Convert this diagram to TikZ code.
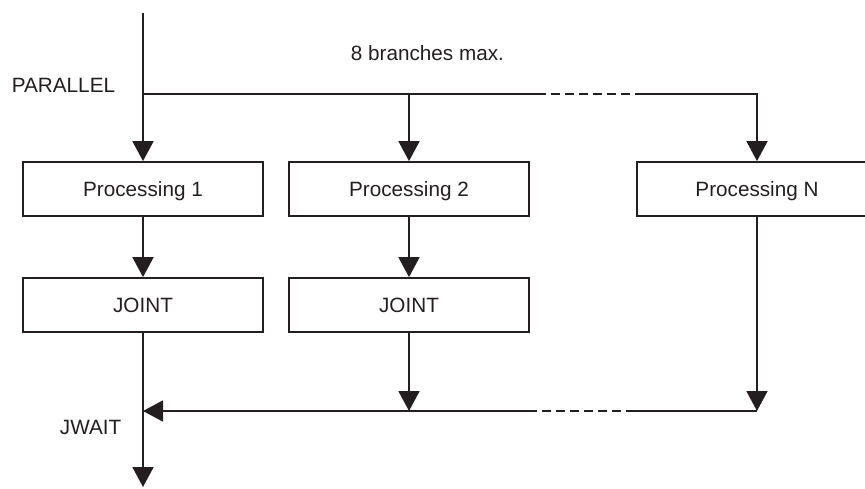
\documentclass[tikz,border=0pt]{standalone}
\usepackage{fontspec}
\setmainfont{Liberation Sans}
\usetikzlibrary{arrows.meta}
\definecolor{ink}{RGB}{35,31,32}
\begin{document}
\begin{tikzpicture}[x=1pt,y=-1pt,
  line width=1.8pt, draw=ink,
  txt/.style={font=\fontsize{20.7}{24}\selectfont, text=ink, inner sep=0pt},
  box/.style={draw=ink, line width=1.8pt, minimum width=240pt, minimum height=54pt,
    inner sep=0pt, text height=15pt, text depth=0pt,
    font=\fontsize{20.7}{24}\selectfont, text=ink},
  arr/.style={-{Triangle[width=21pt,length=20pt]}},
  dsh/.style={dash pattern=on 9pt off 5pt}
]
\useasboundingbox (0,0) rectangle (865,488);
\clip (0,0) rectangle (865,488);

% boxes
\node[box] (p1) at (143,189) {Processing 1};
\node[box] (p2) at (409,189) {Processing 2};
\node[box] (pN) at (757,189) {Processing N};
\node[box] (j1) at (143,305) {JOINT};
\node[box] (j2) at (409,305) {JOINT};

% labels
\node[txt, anchor=base west] (lpar) at (11,92) {PARALLEL};
\node[txt, anchor=base west] (lmax) at (350,60) {8 branches max.};
\node[txt, anchor=base west] (ljw) at (59,434) {JWAIT};

% top part
\coordinate (top) at (143,13);
\coordinate (br) at (143,94);
\coordinate (d1) at (537,94);
\coordinate (d2) at (637,94);
\coordinate (rt) at (pN.north |- br);
\draw[arr] (top) -- (p1.north);
\draw (br) -- (d1);
\draw[dsh] (d1) -- (d2);
\draw[arr] (d2) -- (rt) -- (pN.north);
\draw[arr] (p2.north |- br) -- (p2.north);

% middle
\draw[arr] (p1.south) -- (j1.north);
\draw[arr] (p2.south) -- (j2.north);

% bottom
\coordinate (jw) at (143,411);
\coordinate (e1) at (529,411);
\coordinate (e2) at (635,411);
\coordinate (out) at (143,487);
\draw[arr] (j2.south) -- (j2.south |- jw);
\draw[arr] (pN.south) -- (pN.south |- jw);
\draw (pN.south |- jw) -- (e2);
\draw[dsh] (e2) -- (e1);
\draw[arr] (e1) -- (jw);
\draw[arr] (j1.south) -- (out);
\end{tikzpicture}
\end{document}
